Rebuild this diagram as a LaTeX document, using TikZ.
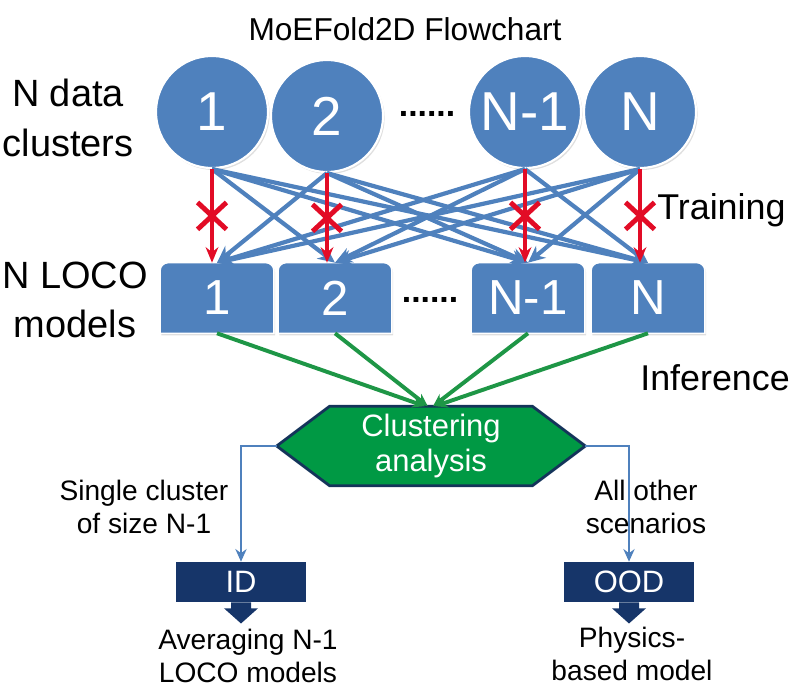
\documentclass[tikz,border=0pt]{standalone}
\usepackage{fontspec}
\setmainfont{Liberation Sans}
\usepackage{tikz}
\usetikzlibrary{arrows.meta,positioning,calc,shapes.misc,shadows,backgrounds}

\definecolor{clusblue}{RGB}{79,129,189}
\definecolor{nogored}{RGB}{226,12,38}
\definecolor{infgreen}{RGB}{30,150,70}
\definecolor{hexgreen}{RGB}{0,153,68}
\definecolor{hexedge}{RGB}{20,52,90}
\definecolor{navy}{RGB}{22,53,105}

\tikzset{
  cluster/.style={circle, fill=clusblue, draw=white, line width=1.5pt, minimum size=2.8cm,
    inner sep=0pt, text=white, font=\fontsize{39}{40}\selectfont,
    drop shadow={opacity=0.25, shadow xshift=0.04cm, shadow yshift=-0.05cm}},
  loco/.style={minimum width=2.83cm, minimum height=1.75cm, inner sep=0pt, text=white,
    font=\fontsize{35}{38}\selectfont},
  locoshape/.style={fill=clusblue, draw=white, line width=1pt,
    drop shadow={opacity=0.25, shadow xshift=0.03cm, shadow yshift=-0.05cm}},
  dotrow/.style={font=\fontsize{24}{26}\selectfont\bfseries, inner sep=0pt},
  sidelabel/.style={align=center, font=\fontsize{27}{35}\selectfont, inner sep=0pt},
  steplabel/.style={font=\fontsize{25.5}{30}\selectfont, inner sep=0pt, anchor=west},
  smalllabel/.style={align=center, font=\fontsize{20}{23.5}\selectfont, inner sep=0pt},
  train/.style={-{Stealth[length=12pt,width=11pt]}, draw=clusblue, line width=3pt},
  nogo/.style={-{Stealth[length=11pt,width=9pt]}, draw=nogored, line width=2.5pt},
  crossmark/.style={cross out, draw=nogored, line width=3.5pt, minimum width=0.6cm,
    minimum height=0.55cm, inner sep=0pt},
  infer/.style={-{Stealth[length=9pt,width=8pt]}, draw=infgreen, line width=2.8pt},
  clusnode/.style={minimum width=7.7cm, minimum height=1.975cm, inner sep=0pt, align=center,
    text=white, font=\fontsize{22}{25}\selectfont},
  hexshape/.style={fill=hexgreen, draw=hexedge, line width=2pt},
  branch/.style={-{Stealth[length=9pt,width=8pt]}, draw=clusblue, line width=2pt},
  outcome/.style={fill=navy, text=white, minimum width=3.25cm, minimum height=1cm,
    inner sep=0pt, font=\fontsize{22}{25}\selectfont},
}

\begin{document}
\begin{tikzpicture}[x=0.025cm, y=-0.025cm]
  \useasboundingbox (0,0) rectangle (800,688);

  \node (title) [font=\fontsize{22.5}{26}\selectfont] at (405,29) {MoEFold2D Flowchart};

  % data clusters
  \node (c1) [cluster] at (212,112) {1};
  \node (c2) [cluster] at (327,116) {2};
  \node (c3) [cluster] at (525,112) {N-1};
  \node (c4) [cluster] at (640,112) {N};
  \node (cdots) [dotrow] at (427,114) {......};

  % LOCO models
  \node (m1) [loco] at (217,298) {1};
  \node (m2) [loco] at (335,298) {2};
  \node (m3) [loco] at (528,298) {N-1};
  \node (m4) [loco] at (648,298) {N};
  \node (mdots) [dotrow] at (430,300) {......};

  \begin{scope}[on background layer]
    \foreach \m in {m1,m2,m3,m4}
      \filldraw [locoshape] (\m.south west) [rounded corners=0.2cm] -- (\m.north west)
        -- (\m.north east) [sharp corners] -- (\m.south east) -- cycle;
  \end{scope}

  \node (nclus) [sidelabel] at (68,118) {N data\\clusters};
  \node (nloco) [sidelabel] at (75,300) {N LOCO\\models};
  \node (training) [steplabel] at (657,210) {Training};
  \node (inference) [steplabel] at (640,378) {Inference};

  % training: leave one cluster out
  \path [every edge/.style={train}]
  (c1.south) edge (m2.north) edge (m3.north) edge (m4.north)
  (c2.south) edge (m1.north) edge (m3.north) edge (m4.north)
  (c3.south) edge (m1.north) edge (m2.north) edge (m4.north)
  (c4.south) edge (m1.north) edge (m2.north) edge (m3.north);

  \path [every edge/.style={nogo}]
  (c1.south) edge node [crossmark] {} (c1.south |- m1.north)
  (c2.south) edge node [crossmark] {} (c2.south |- m2.north)
  (c3.south) edge node [crossmark] {} (c3.south |- m3.north)
  (c4.south) edge node [crossmark] {} (c4.south |- m4.north);

  % inference
  \node (clus) [clusnode] at (431,446) {Clustering\\analysis};
  \begin{scope}[on background layer]
    \filldraw [hexshape] (clus.west) -- ([xshift=1.325cm]clus.north west)
      -- ([xshift=-1.325cm]clus.north east) -- (clus.east)
      -- ([xshift=-1.325cm]clus.south east) -- ([xshift=1.325cm]clus.south west) -- cycle;
  \end{scope}

  \path [every edge/.style={infer}]
  (m1.south) edge ([xshift=-0.15cm]clus.north)
  (m2.south) edge ([xshift=-0.08cm]clus.north)
  (m3.south) edge ([xshift=0.05cm]clus.north)
  (m4.south) edge ([xshift=0.1cm]clus.north);

  \node (id) [outcome] at (241,582) {ID};
  \node (ood) [outcome] at (629,582) {OOD};

  \draw [branch] (clus.west) -| (id.north);
  \draw [branch] (clus.east) -| (ood.north);

  \foreach \o in {id,ood}
    \fill [navy] ([xshift=-0.25cm]\o.south) -- ++(0cm,-0.15cm) -- ++(-0.175cm,0cm)
      -- ([yshift=-0.53cm]\o.south) -- ([xshift=0.425cm,yshift=-0.15cm]\o.south)
      -- ++(-0.175cm,0cm) -- ([xshift=0.25cm]\o.south) -- cycle;

  \node (single) [smalllabel] at (144,507) {Single cluster\\of size N-1};
  \node (others) [smalllabel] at (646,507) {All other\\scenarios};
  \node (avg) [smalllabel] at (248,656) {Averaging N-1\\LOCO models};
  \node (phys) [smalllabel] at (632,654) {Physics-\\based model};
\end{tikzpicture}
\end{document}
